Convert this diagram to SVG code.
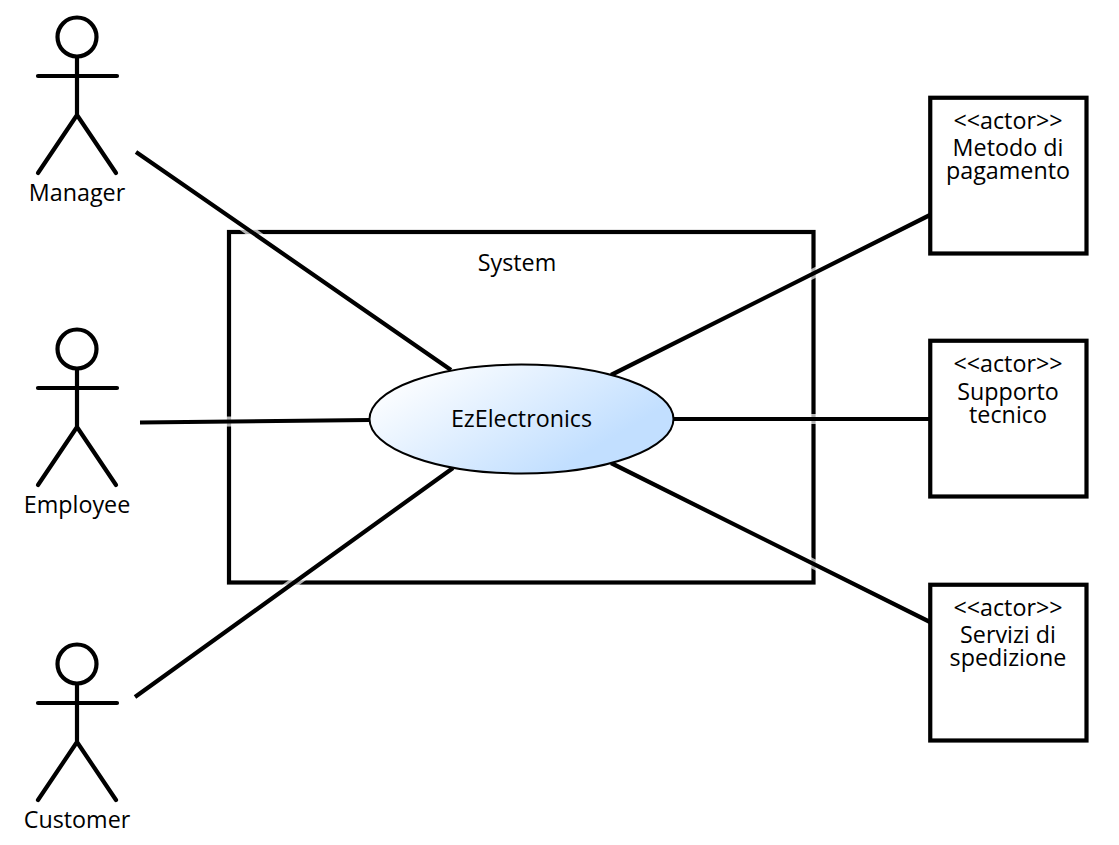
<svg xmlns="http://www.w3.org/2000/svg" width="1119" height="845" viewBox="0 0 1119 845">
<style>
text{font-family:"Open Sans","Noto Sans",sans-serif;font-size:23.3px;fill:#000;text-anchor:middle}
.s{fill:none;stroke:#000;stroke-width:4.200;stroke-linecap:round}
.b{fill:#fff;stroke:#000;stroke-width:4.200}
.c{fill:none;stroke:#000;stroke-width:4.200}
.h{fill:none;stroke:#fff;stroke-width:10;stroke-opacity:.7}
</style>
<defs>
<linearGradient id="g" gradientUnits="userSpaceOnUse" x1="425" y1="357" x2="510" y2="499"><stop offset="0" stop-color="#fff"/><stop offset="1" stop-color="#c2dfff"/></linearGradient>
<g id="actor"><circle class="s" cx="77" cy="37" r="19.5"/><path class="s" d="M77 57V115M38 76H117M77 115L38 173M77 115L116 173"/></g>
</defs>
<g id="system"><rect x="229" y="232" width="584.500" height="350.500" fill="#fff" stroke="#000" stroke-width="4.200"/><text x="517" y="271">System</text></g>
<g id="connectors">
<path class="h" d="M136 152L451 370M140 422.500L370 420M135 697L453 468M611 375L930 215M673 419H930M611 463L930 622"/>
<path class="c" d="M136 152L451 370M140 422.500L370 420M135 697L453 468M611 375L930 215M673 419H930M611 463L930 622"/>
</g>
<g id="usecase"><ellipse cx="521.500" cy="419" rx="152" ry="54.500" fill="url(#g)" stroke="#000" stroke-width="2"/><text x="521.500" y="427">EzElectronics</text></g>
<g id="manager"><use href="#actor"/><text x="77" y="201">Manager</text></g>
<g id="employee"><use href="#actor" y="312"/><text x="77" y="513">Employee</text></g>
<g id="customer"><use href="#actor" y="627"/><text x="77" y="828">Customer</text></g>
<g id="metodo"><rect class="b" x="930.250" y="97.750" width="156.250" height="155.750"/><text x="1008" y="129">&lt;&lt;actor&gt;&gt;</text><text x="1008" y="156">Metodo di</text><text x="1008" y="179">pagamento</text></g>
<g id="supporto"><rect class="b" x="930.250" y="340.750" width="156.250" height="155.750"/><text x="1008" y="372">&lt;&lt;actor&gt;&gt;</text><text x="1008" y="400">Supporto</text><text x="1008" y="423">tecnico</text></g>
<g id="servizi"><rect class="b" x="930.250" y="584.750" width="156.250" height="155.750"/><text x="1008" y="616">&lt;&lt;actor&gt;&gt;</text><text x="1008" y="643">Servizi di</text><text x="1008" y="666">spedizione</text></g>
</svg>
